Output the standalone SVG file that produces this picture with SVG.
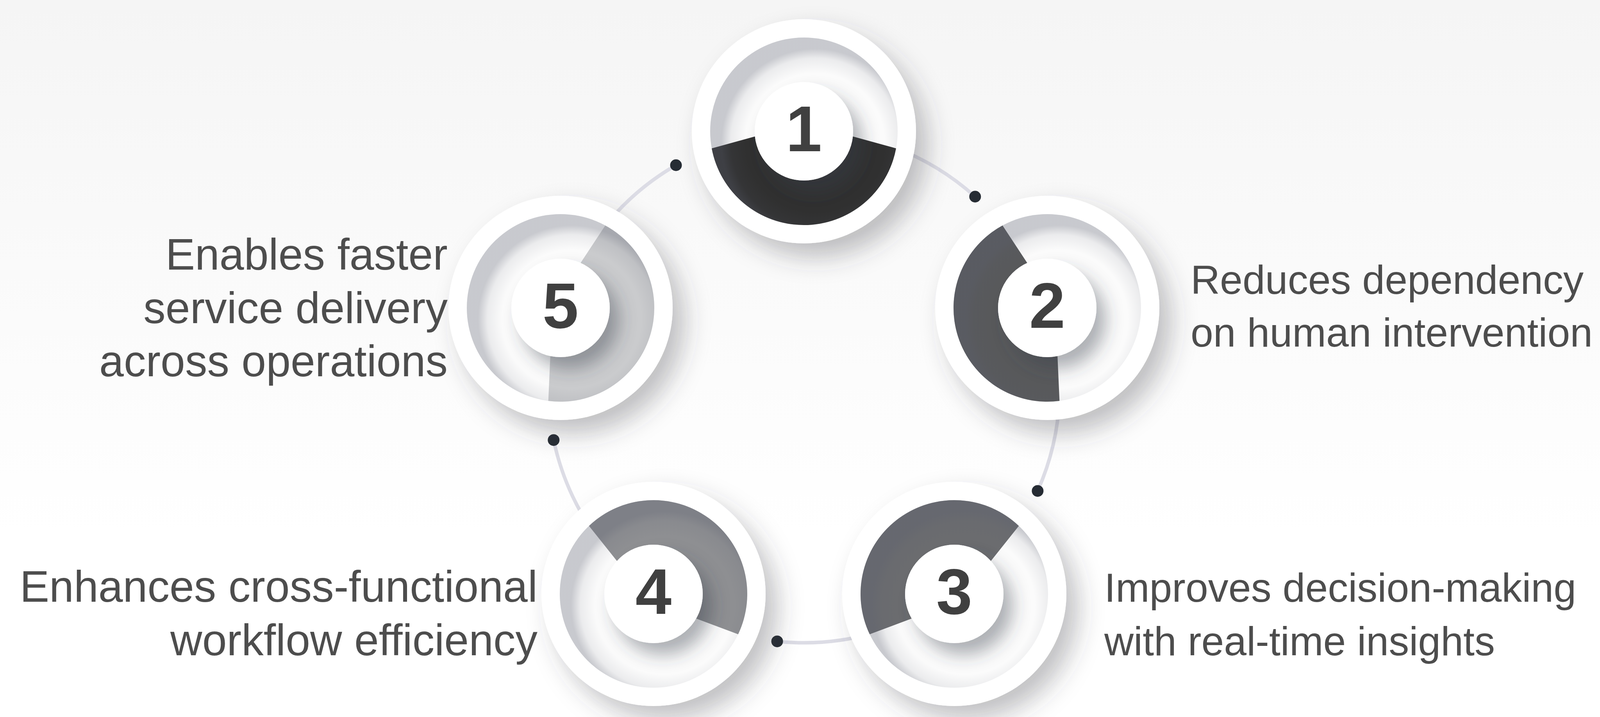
<svg xmlns="http://www.w3.org/2000/svg" xmlns:xlink="http://www.w3.org/1999/xlink" width="4254" height="1835" viewBox="0 0 4254 1835">
<style>
.outer{fill:#ffffff;filter:url(#dropOuter)}
.well{fill:#fbfbfb}
.inset{fill:url(#inset)}
.inner{fill:#ffffff;filter:url(#dropInner)}
.num{font-family:"Liberation Sans",Arial,sans-serif;font-weight:bold;font-size:166px;fill:#404040;text-anchor:middle}
.label{font-family:"Liberation Sans",Arial,sans-serif;font-size:113px;fill:#4d4d4d}
.right{font-size:104px}
.end{text-anchor:end}
.conn{fill:none;stroke:#dcdce5;stroke-width:9;stroke-linecap:round}
.dot{fill:#262c34}
</style>
<defs>
<linearGradient id="bg" x1="0" y1="0" x2="0" y2="1">
<stop offset="0" stop-color="#f5f5f5"/>
<stop offset="0.75" stop-color="#ffffff"/>
</linearGradient>
<radialGradient id="inset" cx="0.56" cy="0.56" r="0.5">
<stop offset="0.74" stop-color="#5c6070" stop-opacity="0"/>
<stop offset="0.9" stop-color="#5c6070" stop-opacity="0.1"/>
<stop offset="1" stop-color="#5c6070" stop-opacity="0.32"/>
</radialGradient>
<filter id="dropOuter" x="-50%" y="-50%" width="200%" height="200%">
<feDropShadow dx="30" dy="35" stdDeviation="32" flood-color="#3a3d48" flood-opacity="0.32"/>
</filter>
<filter id="dropInner" x="-60%" y="-60%" width="220%" height="220%">
<feDropShadow dx="24" dy="30" stdDeviation="22" flood-color="#3a3d48" flood-opacity="0.4"/>
</filter>
<path id="band" d="M 43.74 -235.98 A 240 240 0 0 1 43.74 235.98 L 13.17 125.31 A 126 126 0 0 0 13.17 -125.31 Z"/>
</defs>
<rect width="4254" height="1835" fill="url(#bg)"/>
<g id="connectors">
<path class="conn" d="M 2282.02 374.50 A 655 655 0 0 1 2496.28 503.24"/>
<path class="conn" d="M 2712.60 1012.86 A 655 655 0 0 1 2656.38 1256.41"/>
<path class="conn" d="M 2238.54 1619.63 A 655 655 0 0 1 1989.53 1641.41"/>
<path class="conn" d="M 1514.98 1356.27 A 655 655 0 0 1 1417.31 1126.18"/>
<path class="conn" d="M 1541.85 586.74 A 655 655 0 0 1 1730.50 422.75"/>
<circle class="dot" cx="2496.28" cy="503.24" r="15"/>
<circle class="dot" cx="2656.38" cy="1256.41" r="15"/>
<circle class="dot" cx="1989.53" cy="1641.41" r="15"/>
<circle class="dot" cx="1417.31" cy="1126.18" r="15"/>
<circle class="dot" cx="1730.50" cy="422.75" r="15"/>
</g>
<g id="node-1" transform="translate(2058 336)">
<circle class="outer" r="287"/>
<circle class="well" r="240"/>
<use href="#band" xlink:href="#band" transform="rotate(90)" fill="#303030"/>
<circle class="inset" r="240"/>
<circle class="inner" r="126"/>
<text class="num" y="51">1</text>
</g>
<g id="node-2" transform="translate(2681 788)">
<circle class="outer" r="287"/>
<circle class="well" r="240"/>
<use href="#band" xlink:href="#band" transform="rotate(162)" fill="#58595b"/>
<circle class="inset" r="240"/>
<circle class="inner" r="126"/>
<text class="num" y="51">2</text>
</g>
<g id="node-3" transform="translate(2443 1520)">
<circle class="outer" r="287"/>
<circle class="well" r="240"/>
<use href="#band" xlink:href="#band" transform="rotate(234)" fill="#6b6c6f"/>
<circle class="inset" r="240"/>
<circle class="inner" r="126"/>
<text class="num" y="51">3</text>
</g>
<g id="node-4" transform="translate(1673 1520)">
<circle class="outer" r="287"/>
<circle class="well" r="240"/>
<use href="#band" xlink:href="#band" transform="rotate(306)" fill="#8e8f92"/>
<circle class="inset" r="240"/>
<circle class="inner" r="126"/>
<text class="num" y="51">4</text>
</g>
<g id="node-5" transform="translate(1435 788)">
<circle class="outer" r="287"/>
<circle class="well" r="240"/>
<use href="#band" xlink:href="#band" transform="rotate(18)" fill="#cacbcd"/>
<circle class="inset" r="240"/>
<circle class="inner" r="126"/>
<text class="num" y="51">5</text>
</g>
<g id="label-2">
<text class="label right" x="3048" y="752">Reduces dependency</text>
<text class="label right" x="3048" y="887">on human intervention</text>
</g>
<g id="label-3">
<text class="label right" x="2827" y="1540">Improves decision-making</text>
<text class="label right" x="2827" y="1677">with real-time insights</text>
</g>
<g id="label-4">
<text class="label end" x="1376" y="1540">Enhances cross-functional</text>
<text class="label end" x="1376" y="1677">workflow efficiency</text>
</g>
<g id="label-5">
<text class="label end" x="1146" y="690">Enables faster</text>
<text class="label end" x="1146" y="827">service delivery</text>
<text class="label end" x="1146" y="963">across operations</text>
</g>
</svg>
